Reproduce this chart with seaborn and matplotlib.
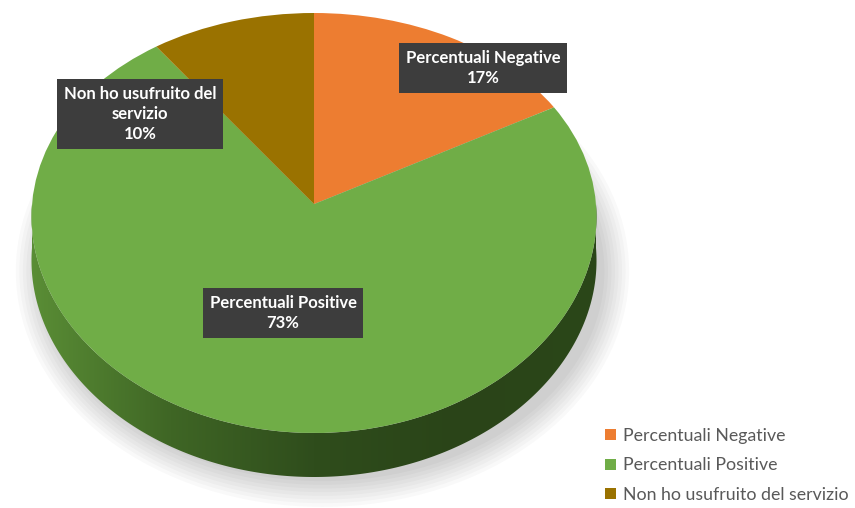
import numpy as np
import matplotlib
matplotlib.use("Agg")
import matplotlib.pyplot as plt
import matplotlib.transforms as mtransforms
import seaborn as sns
from matplotlib.patches import Polygon, Ellipse
from matplotlib.colors import LinearSegmentedColormap

# -- data --
labels = ["Percentuali Negative", "Percentuali Positive", "Non ho usufruito del servizio"]
box_labels = ["Percentuali Negative", "Percentuali Positive", "Non ho usufruito del\nservizio"]
values = [17, 73, 10]
colors = ["#ED7D31", "#70AD47", "#9A7200"]
# label box centres (pixels from top-left of the figure)
label_px = [(483, 68), (283, 313), (140, 114)]

sns.set_theme(style="white")
plt.rcParams["font.family"] = ["Lato", "DejaVu Sans"]

W, H = 855, 508
cx_px, cy_px = 314, 223   # centre of the top ellipse in pixels
rx, ry = 282, 210         # ellipse radii in pixels
depth = 44 / ry           # thickness of the 3d side in data units
A, B = 0.09, 0.06         # fake perspective (vertex lifted, back narrower)


def persp(x, y):
    return x * (1 - B * y), y + A * (1 - y ** 2)


class Persp(mtransforms.Transform):
    input_dims = output_dims = 2

    def transform_non_affine(self, v):
        v = np.asarray(v, dtype=float)
        x, y = persp(v[:, 0], v[:, 1])
        return np.column_stack([x, y])


fig = plt.figure(figsize=(W / 100, H / 100), dpi=100)
ax = fig.add_axes([0, 0, 1, 1])

wedges, _ = ax.pie(values, colors=colors, startangle=90, counterclock=False,
                   radius=1, center=(0, 0), wedgeprops=dict(linewidth=0))
for w in wedges:
    w.set_transform(Persp() + ax.transData)
    w.set_zorder(3)

ax.set_aspect("auto")
ax.set_xlim(-cx_px / rx, (W - cx_px) / rx)
ax.set_ylim(-(H - cy_px) / ry, cy_px / ry)
ax.axis("off")

# soft shadow under the pie
for k in range(8):
    ax.add_patch(Ellipse((0.03, -depth - 0.02), 2.0 + 0.025 * k, 2.0 + 0.035 * k,
                         facecolor="#000000", alpha=0.025, lw=0, zorder=0))

# 3d side (front of the green slice)
t = np.linspace(np.pi, 2 * np.pi, 300)
tx, ty = persp(np.cos(t), np.sin(t))
top = np.column_stack([tx, ty])
bot = np.column_stack([tx[::-1], ty[::-1] - depth])
side = Polygon(np.vstack([top, bot]), closed=True, facecolor="none", lw=0, zorder=2)
ax.add_patch(side)
side_cmap = LinearSegmentedColormap.from_list("side", ["#5b8f36", "#3f6625", "#2f4d1c", "#2a4418", "#2b4719"])
grad = ax.imshow(np.linspace(0, 1, 256)[None, :], cmap=side_cmap, aspect="auto",
                 extent=(-1.02, 1.02, -1.1 - depth, 0.1), zorder=2)
grad.set_clip_path(side)

# data labels
for txt, v, (px, py) in zip(box_labels, values, label_px):
    ax.text((px - cx_px) / rx, (cy_px - py) / ry, f"{txt}\n{v}%",
            ha="center", va="center", color="white", fontsize=12, fontweight="bold",
            linespacing=1.3, zorder=5,
            bbox=dict(boxstyle="square,pad=0.4", facecolor="#3d3d3d", edgecolor="none"))

ax.legend(wedges, labels, loc="upper left", bbox_to_anchor=(598 / W, 1 - 421 / H),
          bbox_transform=fig.transFigure, frameon=False, fontsize=12.8,
          labelcolor="#595959", handlelength=0.6, handleheight=0.6,
          handletextpad=0.4, labelspacing=0.75, borderaxespad=0)

fig.savefig("out.png", dpi=100, facecolor="white")
